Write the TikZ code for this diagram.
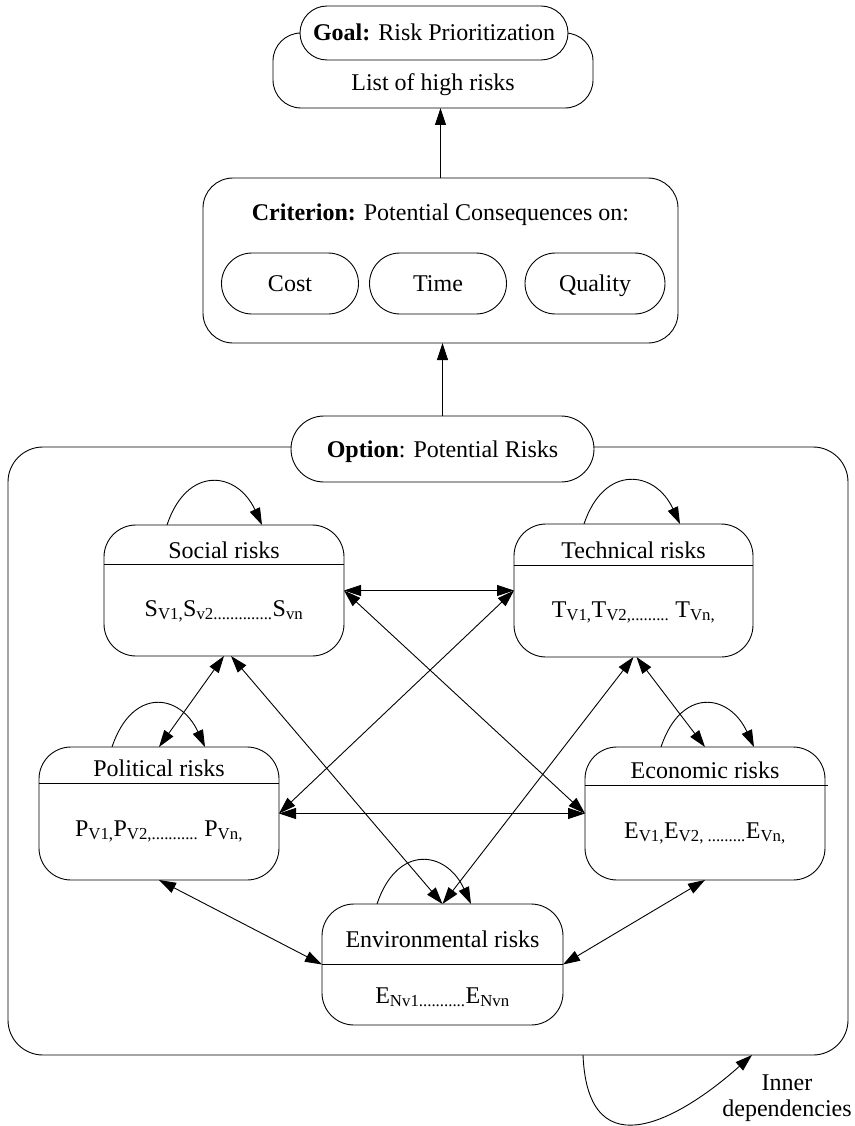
\documentclass[tikz,border=0pt]{standalone}
\usepackage{fontspec}
\setmainfont{Liberation Serif}
\usetikzlibrary{arrows.meta,shapes.misc}
\newcommand{\sbs}[1]{\textsubscript{#1}}
\tikzset{
  box/.style={draw, rounded corners=32pt, minimum width=240pt, inner sep=0pt, outer sep=0pt},
  pill/.style={draw, fill=white, rounded rectangle, inner sep=0pt, outer sep=0pt, text height=16pt, text depth=0pt},
  txt/.style={inner sep=0pt, text height=16pt, text depth=0pt},
  arr/.style={-{Triangle[length=17pt,width=11pt]}},
  darr/.style={{Triangle[length=17pt,width=11pt]}-{Triangle[length=17pt,width=11pt]}},
}
\begin{document}
\begin{tikzpicture}[x=1pt,y=-1pt,line width=0.9pt,font=\fontsize{24}{26}\selectfont]
\useasboundingbox (0,0) rectangle (854,1126);

% Goal
\node[box, rounded corners=28pt, minimum width=320pt, minimum height=75pt] (goalbox) at (433,70.5) {};
\node[pill, minimum width=268pt, minimum height=54pt] (goal) at (434,33) {\textbf{Goal:} Risk Prioritization};
\node[txt] (list) at (433,83) {List of high risks};

% Criterion
\node[box, rounded corners=30pt, minimum width=475pt, minimum height=165pt] (crit) at (440.5,260.5) {};
\node[txt] (crittxt) at (440.5,212) {\textbf{Criterion:} Potential Consequences on:};
\node[pill, minimum width=137pt, minimum height=61pt] (cost) at (290,283.5) {Cost};
\node[pill, minimum width=137pt, minimum height=61pt] (time) at (438,283.5) {Time};
\node[pill, minimum width=140pt, minimum height=61pt] (quality) at (595,283.5) {Quality};
\draw[arr] (crit.north) -- (crit.north |- goalbox.south);

% Option
\node[box, rounded corners=35pt, minimum width=840pt, minimum height=608pt] (outer) at (428,751) {};
\node[pill, minimum width=303pt, minimum height=66pt] (opt) at (442.5,449) {\textbf{Option}: Potential Risks};
\draw[arr] (opt.north) -- (opt.north |- crit.south);

% Risk boxes
\node[box, minimum height=131pt] (soc) at (224,590.5) {};
\draw ([yshift=-39pt]soc.north west) -- ([yshift=-39pt]soc.north east);
\node[txt] (soclbl) at ([yshift=-25pt]soc.north) {Social risks};
\node[txt] (socval) at ([yshift=-83pt]soc.north) {S\sbs{V1,}S\sbs{v2..............}S\sbs{vn}};

\node[box, minimum width=239pt, minimum height=133pt] (tec) at (633.5,590.5) {};
\draw ([yshift=-41pt]tec.north west) -- ([yshift=-41pt]tec.north east);
\node[txt] (teclbl) at ([yshift=-26pt]tec.north) {Technical risks};
\node[txt] (tecval) at ([yshift=-85pt]tec.north) {T\sbs{V1,}T\sbs{V2,.........} T\sbs{Vn,}};

\node[box, minimum height=133pt] (pol) at (159,813.5) {};
\draw ([yshift=-36pt]pol.north west) -- ([yshift=-36pt]pol.north east);
\node[txt] (pollbl) at ([yshift=-21pt]pol.north) {Political risks};
\node[txt] (polval) at ([yshift=-81pt]pol.north) {P\sbs{V1,}P\sbs{V2,...........} P\sbs{Vn,}};

\node[box, minimum height=133pt] (eco) at (705,813.5) {};
\draw ([yshift=-38pt]eco.north west) -- ([yshift=-38pt,xshift=3pt]eco.north east);
\node[txt] (ecolbl) at ([yshift=-23pt]eco.north) {Economic risks};
\node[txt] (ecoval) at ([yshift=-83pt]eco.north) {E\sbs{V1,}E\sbs{V2, .........}E\sbs{Vn,}};

\node[box, minimum width=241pt, minimum height=121pt] (env) at (442.5,964.5) {};
\draw ([yshift=-60pt]env.north west) -- ([yshift=-60pt]env.north east);
\node[txt] (envlbl) at ([yshift=-35pt]env.north) {Environmental risks};
\node[txt] (envval) at ([yshift=-91pt]env.north) {E\sbs{Nv1...........}E\sbs{Nvn}};

% Connections
\draw[darr] (soc.east) -- (tec.west);
\draw[darr] (soc.east) -- (eco.west);
\draw[darr] (tec.west) -- (pol.east);
\draw[darr] (pol.east) -- (eco.west);
\draw[darr] (soc.south) -- (pol.north);
\draw[darr] ([xshift=7pt]soc.south) -- (env.north);
\draw[darr] ([xshift=3pt]tec.south) -- (eco.north);
\draw[darr] (tec.south) -- (env.north);
\draw[darr] (pol.south) -- (env.west);
\draw[darr] (eco.south) -- (env.east);

% Self loops
\draw[arr] ([xshift=-57pt]soc.north) .. controls +(20,-60) and +(-25,-54) .. ([xshift=38pt]soc.north);
\draw[arr] ([xshift=-49.5pt]tec.north) .. controls +(20,-60) and +(-25,-54) .. ([xshift=46.5pt]tec.north);
\draw[arr] ([xshift=-47pt]pol.north) .. controls +(20,-60) and +(-25,-54) .. ([xshift=46pt]pol.north);
\draw[arr] ([xshift=-44pt]eco.north) .. controls +(20,-60) and +(-25,-54) .. ([xshift=49pt]eco.north);
\draw[arr] ([xshift=-65.5pt]env.north) .. controls +(20,-60) and +(-25,-54) .. ([xshift=28.5pt]env.north);

% Inner dependencies
\draw[arr] ([xshift=155pt]outer.south) .. controls +(5,120) and +(-67,60) .. ([xshift=324pt]outer.south);
\node[align=center, inner sep=0pt] (inner) at (787,1098) {Inner\\dependencies};
\end{tikzpicture}
\end{document}
